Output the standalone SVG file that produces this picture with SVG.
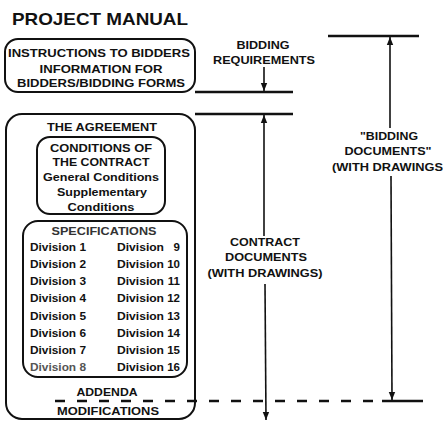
<svg xmlns="http://www.w3.org/2000/svg" width="443" height="422" viewBox="0 0 443 422">
<defs>
<style>
.t{font-family:"Liberation Sans",Arial,sans-serif;font-weight:bold;fill:#111;text-anchor:middle}
.s{font-size:11px}
.d{font-family:"Liberation Sans",Arial,sans-serif;font-weight:bold;fill:#111;font-size:11.5px}
.n{text-anchor:end}
.box{fill:none;stroke:#111;stroke-width:2}
.ln{stroke:#111;stroke-width:2.5;fill:none}
.v{stroke:#111;stroke-width:1.6;fill:none}
.dash{stroke:#111;stroke-width:2.4;stroke-dasharray:10 12;fill:none}
</style>
<marker id="ah" viewBox="0 0 10 10" refX="10" refY="5" markerWidth="5" markerHeight="5" orient="auto">
<path d="M0,1 L10,5 L0,9 Z" fill="#111"/>
</marker>
</defs>
<rect width="443" height="422" fill="#fff"/>
<text class="t" x="12" y="25" style="text-anchor:start;font-size:17px" textLength="176" lengthAdjust="spacingAndGlyphs">PROJECT MANUAL</text>

<g id="bidding-box">
<rect class="box" x="5" y="39" width="190" height="53" rx="13"/>
<text class="t s" x="99" y="57" textLength="182" lengthAdjust="spacingAndGlyphs">INSTRUCTIONS TO BIDDERS</text>
<text class="t s" x="101" y="73" textLength="123" lengthAdjust="spacingAndGlyphs">INFORMATION FOR</text>
<text class="t s" x="101" y="87" textLength="168" lengthAdjust="spacingAndGlyphs">BIDDERS/BIDDING FORMS</text>
</g>

<g id="contract-box">
<rect class="box" x="6" y="114" width="189" height="305" rx="16"/>
<text class="t s" x="102" y="131" textLength="110" lengthAdjust="spacingAndGlyphs">THE AGREEMENT</text>
</g>

<g id="conditions-box">
<rect class="box" x="37" y="137" width="128" height="77" rx="13"/>
<text class="t s" x="101" y="152" textLength="102" lengthAdjust="spacingAndGlyphs">CONDITIONS OF</text>
<text class="t s" x="101" y="166" textLength="97" lengthAdjust="spacingAndGlyphs">THE CONTRACT</text>
<text class="t s" x="101" y="181" textLength="116" lengthAdjust="spacingAndGlyphs">General Conditions</text>
<text class="t s" x="102" y="196" textLength="90" lengthAdjust="spacingAndGlyphs">Supplementary</text>
<text class="t s" x="101" y="211" textLength="67" lengthAdjust="spacingAndGlyphs">Conditions</text>
</g>

<g id="specifications-box">
<rect class="box" x="23" y="221" width="164" height="156" rx="15"/>
<text class="t s" x="104" y="235" textLength="105" lengthAdjust="spacingAndGlyphs" style="fill:#333">SPECIFICATIONS</text>
<g class="d">
<text x="30" y="251" textLength="56" lengthAdjust="spacingAndGlyphs">Division 1</text>
<text x="30" y="268" textLength="56" lengthAdjust="spacingAndGlyphs">Division 2</text>
<text x="30" y="285" textLength="56" lengthAdjust="spacingAndGlyphs">Division 3</text>
<text x="30" y="302" textLength="56" lengthAdjust="spacingAndGlyphs">Division 4</text>
<text x="30" y="320" textLength="56" lengthAdjust="spacingAndGlyphs">Division 5</text>
<text x="30" y="337" textLength="56" lengthAdjust="spacingAndGlyphs">Division 6</text>
<text x="30" y="354" textLength="56" lengthAdjust="spacingAndGlyphs">Division 7</text>
<text x="30" y="371" textLength="56" lengthAdjust="spacingAndGlyphs" style="fill:#555">Division 8</text>
<text x="117" y="251" textLength="47" lengthAdjust="spacingAndGlyphs">Division</text>
<text x="117" y="268" textLength="47" lengthAdjust="spacingAndGlyphs">Division</text>
<text x="117" y="285" textLength="47" lengthAdjust="spacingAndGlyphs">Division</text>
<text x="117" y="302" textLength="47" lengthAdjust="spacingAndGlyphs">Division</text>
<text x="117" y="320" textLength="47" lengthAdjust="spacingAndGlyphs">Division</text>
<text x="117" y="337" textLength="47" lengthAdjust="spacingAndGlyphs">Division</text>
<text x="117" y="354" textLength="47" lengthAdjust="spacingAndGlyphs">Division</text>
<text x="117" y="371" textLength="47" lengthAdjust="spacingAndGlyphs">Division</text>
<text class="n" x="180" y="251">9</text>
<text class="n" x="180" y="268">10</text>
<text class="n" x="180" y="285">11</text>
<text class="n" x="180" y="302">12</text>
<text class="n" x="180" y="320">13</text>
<text class="n" x="180" y="337">14</text>
<text class="n" x="180" y="354">15</text>
<text class="n" x="180" y="371">16</text>
</g>
</g>

<g id="addenda">
<text class="t s" x="107" y="396" textLength="61" lengthAdjust="spacingAndGlyphs">ADDENDA</text>
<text class="t s" x="108" y="415" textLength="102" lengthAdjust="spacingAndGlyphs">MODIFICATIONS</text>
</g>

<g id="labels">
<text class="t s" x="263" y="49" textLength="53" lengthAdjust="spacingAndGlyphs">BIDDING</text>
<text class="t s" x="264" y="64" textLength="102" lengthAdjust="spacingAndGlyphs">REQUIREMENTS</text>
<text class="t s" x="265" y="246" textLength="70" lengthAdjust="spacingAndGlyphs">CONTRACT</text>
<text class="t s" x="266" y="261" textLength="82" lengthAdjust="spacingAndGlyphs">DOCUMENTS</text>
<text class="t s" x="265" y="277" textLength="115" lengthAdjust="spacingAndGlyphs">(WITH DRAWINGS)</text>
<text class="t s" x="389" y="140" textLength="58" lengthAdjust="spacingAndGlyphs">"BIDDING</text>
<text class="t s" x="388" y="155" textLength="87" lengthAdjust="spacingAndGlyphs">DOCUMENTS"</text>
<text class="t s" x="332" y="171" style="text-anchor:start" textLength="111" lengthAdjust="spacingAndGlyphs">(WITH DRAWINGS</text>
</g>

<g id="connectors">
<line class="ln" x1="195" y1="92" x2="293" y2="92"/>
<line class="ln" x1="195" y1="114" x2="293" y2="114"/>
<line class="ln" x1="328" y1="36" x2="419" y2="36"/>
<line class="ln" x1="382" y1="401" x2="423" y2="401"/>
<path class="dash" d="M55,401 H382"/>
<line class="v" x1="264" y1="67" x2="264" y2="91" marker-end="url(#ah)"/>
<line class="v" x1="264" y1="236" x2="264" y2="115" marker-end="url(#ah)"/>
<line class="v" x1="265" y1="284" x2="266" y2="420" marker-end="url(#ah)"/>
<line class="v" x1="390" y1="128" x2="390" y2="37" marker-end="url(#ah)"/>
<line class="v" x1="391" y1="176" x2="392" y2="400" marker-end="url(#ah)"/>
</g>
</svg>
